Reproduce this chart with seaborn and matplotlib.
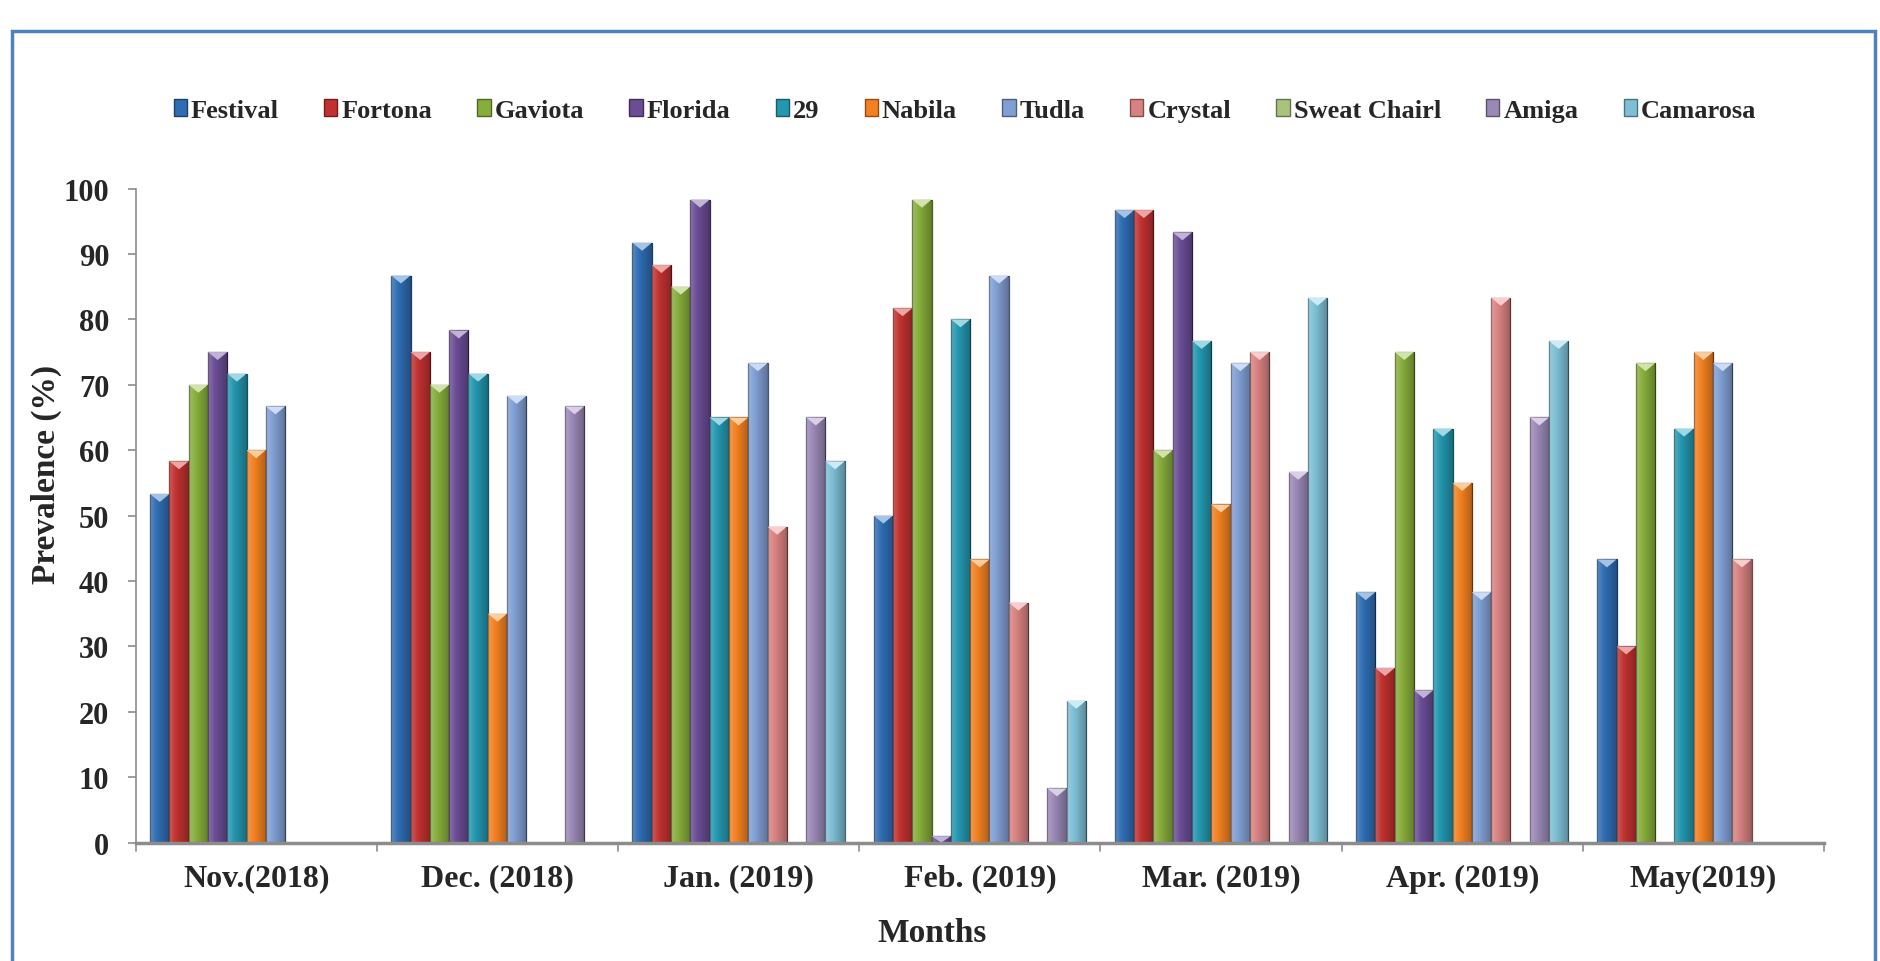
import numpy as np
import pandas as pd
import seaborn as sns
import matplotlib
matplotlib.use("Agg")
import matplotlib.pyplot as plt
from matplotlib.patches import Patch, Rectangle
from matplotlib.colors import to_rgb

months = ["Nov.(2018)", "Dec. (2018)", "Jan. (2019)", "Feb. (2019)",
          "Mar. (2019)", "Apr. (2019)", "May(2019)"]
varieties = ["Festival", "Fortona", "Gaviota", "Florida", "29", "Nabila",
             "Tudla", "Crystal", "Sweat Chairl", "Amiga", "Camarosa"]

festival = [53.3, 86.7, 91.7, 50.0, 96.7, 38.3, 43.3]
fortona = [58.3, 75.0, 88.3, 81.7, 96.7, 26.7, 30.0]
gaviota = [70.0, 70.0, 85.0, 98.3, 60.0, 75.0, 73.3]
florida = [75.0, 78.3, 98.3, 1.0, 93.3, 23.3, 0.0]
v29 = [71.7, 71.7, 65.0, 80.0, 76.7, 63.3, 63.3]
nabila = [60.0, 35.0, 65.0, 43.3, 51.7, 55.0, 75.0]
tudla = [66.7, 68.3, 73.3, 86.7, 73.3, 38.3, 73.3]
crystal = [0.0, 0.0, 48.3, 36.7, 75.0, 83.3, 43.3]
sweat_chairl = [0.0, 0.0, 0.0, 0.0, 0.0, 0.0, 0.0]
amiga = [0.0, 66.7, 65.0, 8.3, 56.7, 65.0, 0.0]
camarosa = [0.0, 0.0, 58.3, 21.7, 83.3, 76.7, 0.0]

series = [festival, fortona, gaviota, florida, v29, nabila, tudla,
          crystal, sweat_chairl, amiga, camarosa]

colors = ["#2F6DB2", "#C0312F", "#87AD3B", "#6A4D95", "#2397AF", "#F38121",
          "#819FD3", "#D98282", "#A9C27C", "#9A88B6", "#7EBFD5"]

rows = []
for name, vals in zip(varieties, series):
    for m, v in zip(months, vals):
        rows.append({"Month": m, "Variety": name, "Prevalence": v})
df = pd.DataFrame(rows)

sns.set_style("white")
plt.rcParams["font.family"] = ["Liberation Serif", "DejaVu Serif"]
plt.rcParams["font.weight"] = "bold"

W, H = 1881, 962
fig = plt.figure(figsize=(W / 100, H / 100), dpi=100)
ax_l, ax_b, ax_w, ax_h = 0.0721, 0.123, 0.8976, 0.680
ax = fig.add_axes([ax_l, ax_b, ax_w, ax_h])

palette = dict(zip(varieties, colors))
sns.barplot(data=df, x="Month", y="Prevalence", hue="Variety",
            order=months, hue_order=varieties, palette=palette,
            width=0.88, gap=0, saturation=1, ax=ax, legend=False,
            errorbar=None)

ax.set_xlim(-0.5, len(months) - 0.5)
ax.set_ylim(0, 100)

# shaded, bevelled look for each bar
px_y = 100 / (ax_h * H)          # data units per pixel, vertically
grad = np.linspace(0, 1, 64)
shade = np.zeros((1, 64, 4))
shade[0, :, :3] = np.where(grad[:, None] < 0.35, 1.0, 0.0)
shade[0, :, 3] = np.where(grad < 0.35, 0.22 * (1 - grad / 0.35),
                          0.28 * (grad - 0.35) / 0.65)
for patch in list(ax.patches):
    r, g, b = to_rgb(patch.get_facecolor())
    patch.set_edgecolor((r * 0.55, g * 0.55, b * 0.55))
    patch.set_linewidth(0.9)
    x0, y0 = patch.get_x(), patch.get_y()
    w, h = patch.get_width(), patch.get_height()
    if h <= 0:
        continue
    im = ax.imshow(shade, extent=(x0, x0 + w, y0, y0 + h), aspect="auto",
                   interpolation="bilinear", zorder=patch.get_zorder() + 0.1)
    im.set_clip_path(patch)
    depth = min(8 * px_y, h)
    light = tuple(min(1, c * 0.5 + 0.55) for c in (r, g, b))
    ax.fill([x0, x0 + w, x0 + w / 2], [y0 + h, y0 + h, y0 + h - depth],
            color=light, lw=0, zorder=patch.get_zorder() + 0.2)

ax.set_xlim(-0.5, len(months) - 0.5)
ax.set_ylim(0, 100)
ax.set_yticks(np.arange(0, 101, 10))
ax.set_xticks(np.arange(len(months)))
ax.set_xticklabels(months, fontsize=23, fontweight="bold")
ax.tick_params(axis="x", length=0, pad=15)
ax.tick_params(axis="y", labelsize=22, length=6, width=1.2, color="#8C8C8C",
               direction="out", left=True, pad=13)
for lbl in ax.get_yticklabels():
    lbl.set_fontweight("bold")

# category separators on the x axis
for xb in np.arange(-0.5, len(months), 1.0):
    ax.plot([xb, xb], [0, -8 / (ax_h * H)], transform=ax.get_xaxis_transform(),
            color="#8C8C8C", lw=1.2, clip_on=False)

for side in ["top", "right"]:
    ax.spines[side].set_visible(False)
ax.spines["left"].set_color("#8C8C8C")
ax.spines["left"].set_linewidth(1.2)
ax.spines["bottom"].set_color("#8C8C8C")
ax.spines["bottom"].set_linewidth(2.5)
ax.spines["bottom"].set_zorder(5)

ax.set_xlabel("Months", fontsize=24, fontweight="bold")
ax.xaxis.label.set_va("center")
ax.xaxis.set_label_coords(0.472, (28 - ax_b * H) / (ax_h * H))
ax.set_ylabel("Prevalence (%)", fontsize=24, fontweight="bold")
ax.yaxis.label.set_va("center")
ax.yaxis.set_label_coords(-0.053, 0.565)

handles = [Patch(facecolor=c, edgecolor=tuple(v * 0.6 for v in to_rgb(c)))
           for c in colors]
fig.legend(handles, varieties, loc="center", bbox_to_anchor=(0.513, 0.884),
           ncol=len(varieties), frameon=False,
           handlelength=0.5, handleheight=0.6, handletextpad=0.15,
           columnspacing=1.72, prop={"weight": "bold", "size": 19})

# outer blue frame
fig.patches.append(Rectangle((12 / W, -0.05), (1875 - 12) / W, 1.05 - 32 / H,
                             transform=fig.transFigure, fill=False,
                             edgecolor="#4F81BD", linewidth=2.5))

fig.savefig("out.png", dpi=100)
